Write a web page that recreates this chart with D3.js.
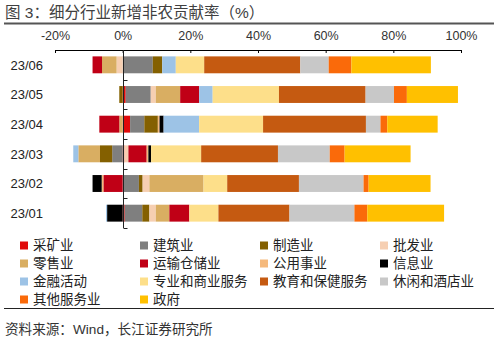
<!DOCTYPE html>
<html><head><meta charset="utf-8">
<script src="https://cdn.jsdelivr.net/npm/d3@7"></script>
<style>
body{margin:0;background:#fff;}
svg{display:block;font-family:"Liberation Sans","Noto Sans CJK SC",Arial,sans-serif;}
</style></head>
<body>
<svg id="c" width="500" height="338"></svg>
<script>
const categories = ["23/06","23/05","23/04","23/03","23/02","23/01"];
const seriesNames = ["采矿业","建筑业","制造业","批发业","零售业","运输仓储业","公用事业","信息业","金融活动","专业和商业服务","教育和保健服务","休闲和酒店业","其他服务业","政府"];
const miningVals      = [0, 0.9, 2.2, 0.5, 0, 0.6];
const constructVals   = [8.9, 7.4, 4.2, -3.1, 4.8, 5.2];
const manufVals       = [2.8, -1.0, 4.0, -3.6, 1.1, 2.1];
const wholesaleVals   = [-1.8, 1.5, 0, 1.2, 2.0, 1.9];
const retailVals      = [-4.3, 7.2, -1.0, -6.4, 16.0, 4.0];
const transportVals   = [-2.8, 5.6, -5.9, 5.4, -5.7, 5.9];
const utilitiesVals   = [0, 0, 0.5, 0.5, -0.5, 0];
const infoVals        = [0, 0, 1.2, 0.8, -2.7, -4.6];
const financeVals     = [4.0, 4.0, 10.5, -1.5, 0, -0.3];
const profVals        = [8.4, 19.6, 18.9, 14.8, 7.0, 8.6];
const eduVals         = [28.4, 25.6, 30.4, 22.7, 21.2, 21.0];
const leisureVals     = [8.4, 8.4, 4.3, 15.3, 19.1, 19.2];
const otherVals       = [6.7, 3.8, 2.0, 4.4, 1.5, 3.8];
const govVals         = [23.5, 15.1, 14.9, 19.5, 18.3, 22.7];
const xTicks = [-20, 0, 20, 40, 60, 80, 100];
const colors = ["#e00a0a","#7f7f7f","#846000","#f6cfb2","#d9ae62","#c00016","#f5b97c","#000000","#9dc3e6","#fddf8a","#c55a11","#c8c8c8","#fa6a0a","#ffc000"];

const seriesVals = [miningVals,constructVals,manufVals,wholesaleVals,retailVals,transportVals,utilitiesVals,infoVals,financeVals,profVals,eduVals,leisureVals,otherVals,govVals];
const table = categories.map((c,i)=>{const o={cat:c}; seriesNames.forEach((s,j)=>o[s]=seriesVals[j][i]); return o;});

const svg = d3.select("#c");
const x = d3.scaleLinear().domain([-20,100]).range([55,461]);
const y = d3.scaleBand().domain(categories).range([50,228]).paddingInner(0.43).paddingOuter(0.215);

// title
svg.append("text").attr("x",5).attr("y",18).attr("font-size",15.5).attr("fill","#404040").text("图 3：细分行业新增非农贡献率（%）");
svg.append("line").attr("x1",4).attr("x2",494).attr("y1",23.5).attr("y2",23.5).attr("stroke","#555").attr("stroke-width",2);

const stack = d3.stack().keys(seriesNames).offset(d3.stackOffsetDiverging).order(d3.stackOrderNone);
const layers = stack(table);
svg.append("g").selectAll("g").data(layers).join("g")
  .attr("fill",(d,i)=>colors[i])
  .selectAll("rect").data(d=>d).join("rect")
  .attr("x",d=>x(Math.min(d[0],d[1])))
  .attr("width",d=>Math.abs(x(d[1])-x(d[0])))
  .attr("y",d=>y(d.data.cat))
  .attr("height",y.bandwidth());

// top axis
const ax = svg.append("g").attr("transform","translate(0,50)")
  .call(d3.axisTop(x).tickValues(xTicks).tickFormat(d=>d+"%").tickSizeInner(-3).tickSizeOuter(0).tickPadding(10));
ax.select(".domain").attr("stroke","#000");
ax.selectAll(".tick line").attr("stroke","#000");
ax.selectAll("text").attr("font-size",12.5).attr("fill","#333").attr("font-family","Liberation Sans, Arial, sans-serif");

// vertical zero axis
const x0 = Math.round(x(0))+0.5;
svg.append("line").attr("x1",x0).attr("x2",x0).attr("y1",50).attr("y2",228).attr("stroke","#222").attr("stroke-width",1);
categories.forEach(c=>{
  const yy = y(c)+y.bandwidth()+(y.step()-y.bandwidth())/2;
  svg.append("line").attr("x1",x0).attr("x2",x0+4).attr("y1",Math.round(yy)+0.5).attr("y2",Math.round(yy)+0.5).attr("stroke","#222");
});
// category labels
svg.append("g").selectAll("text").data(categories).join("text")
  .attr("x",43).attr("y",d=>y(d)+y.bandwidth()/2).attr("dy","0.36em")
  .attr("text-anchor","end").attr("font-size",13).attr("fill","#222").text(d=>d);

// legend
const colX = [20,140,260,380];
const rowY = [245.5,263.5,281.5,299.5];
const lg = svg.append("g").selectAll("g").data(seriesNames).join("g")
  .attr("transform",(d,i)=>`translate(${colX[i%4]},${rowY[Math.floor(i/4)]})`);
lg.append("rect").attr("x",0).attr("y",-4).attr("width",8).attr("height",8).attr("fill",(d,i)=>colors[i]);
lg.append("text").attr("x",13).attr("y",0).attr("dy","0.36em").attr("font-size",13.5).attr("fill","#222").text(d=>d);

svg.append("line").attr("x1",4).attr("x2",494).attr("y1",308.5).attr("y2",308.5).attr("stroke","#222").attr("stroke-width",1.2);
svg.append("text").attr("x",5).attr("y",334).attr("font-size",13.6).attr("fill","#333").text("资料来源：Wind，长江证券研究所");
</script>
</body></html>
